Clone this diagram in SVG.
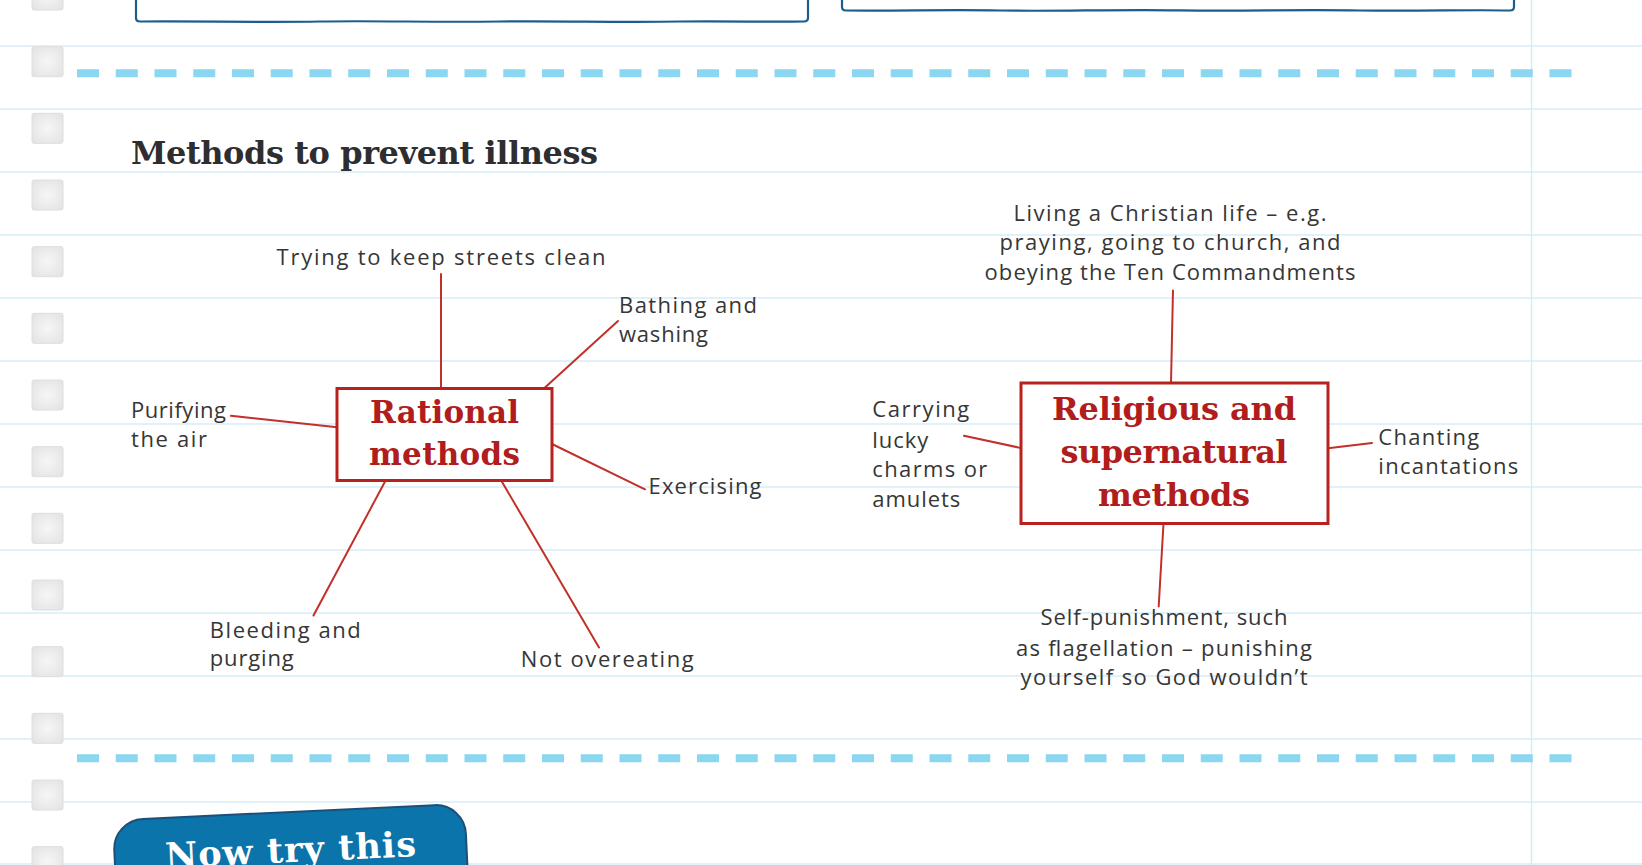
<svg xmlns="http://www.w3.org/2000/svg" width="1642" height="865" viewBox="0 0 1642 865">
<defs>
<style>
.rule{stroke:#e0f1f9;stroke-width:2;fill:none}
.margin{stroke:#d6eaf4;stroke-width:1.5;fill:none}
.dash{stroke:#8bd6f0;stroke-width:8;stroke-dasharray:22 16.75;fill:none}
.cb{fill:url(#cbg);stroke:#dedede;stroke-width:1}
.topbox{fill:#fff;stroke:#1b5e8c;stroke-width:2.2;stroke-linejoin:round}
.box{fill:#fff;stroke:#b7221f;stroke-width:3}
.conn{stroke:#c2302a;stroke-width:2;fill:none;stroke-linecap:round}
.head{font-family:"DejaVu Serif","Liberation Serif",serif;font-weight:bold;fill:#b11c1c;text-anchor:middle}
.lbl{font-family:"Open Sans","Liberation Sans",sans-serif;font-size:22px;fill:#363636}
.mid{text-anchor:middle}
.title{font-family:"DejaVu Serif","Liberation Serif",serif;font-weight:bold;font-size:32px;fill:#2e2e30}
</style>
<radialGradient id="cbg" cx="0.5" cy="0.5" r="0.7">
<stop offset="0" stop-color="#f6f6f6"/>
<stop offset="1" stop-color="#e2e2e2"/>
</radialGradient>
</defs>
<rect width="1642" height="865" fill="#ffffff"/>
<g id="paper">
<g id="rules">
<path class="rule" d="M0,46H1642M0,109H1642M0,172H1642M0,235H1642M0,298H1642M0,361H1642M0,424H1642M0,487H1642M0,550H1642M0,613H1642M0,676H1642M0,739H1642M0,802H1642M0,864H1642"/>
<path class="margin" d="M1531.5,0V865"/>
</g>
<g id="checkboxes">
<rect class="cb" x="32" y="-20" width="31" height="30" rx="2"/>
<rect class="cb" x="32" y="46.7" width="31" height="30" rx="2"/>
<rect class="cb" x="32" y="113.3" width="31" height="30" rx="2"/>
<rect class="cb" x="32" y="180" width="31" height="30" rx="2"/>
<rect class="cb" x="32" y="246.7" width="31" height="30" rx="2"/>
<rect class="cb" x="32" y="313.3" width="31" height="30" rx="2"/>
<rect class="cb" x="32" y="380" width="31" height="30" rx="2"/>
<rect class="cb" x="32" y="446.7" width="31" height="30" rx="2"/>
<rect class="cb" x="32" y="513.3" width="31" height="30" rx="2"/>
<rect class="cb" x="32" y="580" width="31" height="30" rx="2"/>
<rect class="cb" x="32" y="646.7" width="31" height="30" rx="2"/>
<rect class="cb" x="32" y="713.3" width="31" height="30" rx="2"/>
<rect class="cb" x="32" y="780" width="31" height="30" rx="2"/>
<rect class="cb" x="32" y="846.7" width="31" height="30" rx="2"/>
</g>
<path class="dash" d="M77,73.3H1573"/>
<path class="dash" d="M77,758.3H1573"/>
<path class="topbox" d="M136,-4V18Q136,21.5 140,21.5C200,21 260,22.5 320,21.5C380,20.5 430,22.5 500,21.5C560,20.8 620,22.5 680,21.5C730,20.8 770,22.3 804,21.5Q808,21.3 808,18V-4"/>
<path class="topbox" d="M842,-4V7Q842,10.5 846,10.5C900,11 950,9.5 1000,10.5C1060,11.5 1110,9.3 1180,10.3C1240,11.2 1300,9.5 1360,10.5C1420,11.3 1470,9.6 1510,10.5Q1514,10.5 1514,7V-4"/>
</g>
<text id="title" class="title" x="131" y="163.5" textLength="467">Methods to prevent illness</text>
<g id="connectors">
<line class="conn" x1="441" y1="274" x2="441" y2="388"/>
<line class="conn" x1="545" y1="387.5" x2="618" y2="321"/>
<line class="conn" x1="231" y1="415.8" x2="337" y2="427.3"/>
<line class="conn" x1="552" y1="444" x2="645" y2="489.3"/>
<line class="conn" x1="385.6" y1="480.5" x2="313.5" y2="615.5"/>
<line class="conn" x1="501.2" y1="480.5" x2="599" y2="647.5"/>
<line class="conn" x1="1173" y1="290.5" x2="1171" y2="383"/>
<line class="conn" x1="964" y1="435.8" x2="1021" y2="448"/>
<line class="conn" x1="1328" y1="448.3" x2="1372" y2="443"/>
<line class="conn" x1="1163.5" y1="523.5" x2="1158.7" y2="606.5"/>
</g>
<g id="node-rational">
<rect class="box" x="337" y="388.5" width="215" height="92"/>
<text class="head" font-size="31" x="444.5" y="422.7" textLength="149">Rational</text>
<text class="head" font-size="31" x="444.5" y="465" textLength="151">methods</text>
</g>
<g id="node-religious">
<rect class="box" x="1021" y="383" width="307" height="140.5"/>
<text class="head" font-size="32" x="1174" y="420" textLength="244">Religious and</text>
<text class="head" font-size="32" x="1174" y="463.3" textLength="227">supernatural</text>
<text class="head" font-size="32" x="1174" y="506" textLength="152">methods</text>
</g>
<g id="label-streets"><text class="lbl" x="276.5" y="265" textLength="329">Trying to keep streets clean</text></g>
<g id="label-bathing"><text class="lbl" x="619" y="313" textLength="138">Bathing and</text><text class="lbl" x="619" y="342" textLength="89">washing</text></g>
<g id="label-purifying"><text class="lbl" x="131" y="417.5" textLength="95">Purifying</text><text class="lbl" x="131" y="446.5" textLength="76">the air</text></g>
<g id="label-exercising"><text class="lbl" x="648.5" y="494" textLength="113">Exercising</text></g>
<g id="label-bleeding"><text class="lbl" x="209.8" y="637.5" textLength="151">Bleeding and</text><text class="lbl" x="209.8" y="666" textLength="84">purging</text></g>
<g id="label-overeating"><text class="lbl" x="520.8" y="667" textLength="173">Not overeating</text></g>
<g id="label-christian">
<text class="lbl mid" x="1170" y="220.5" textLength="313">Living a Christian life – e.g.</text>
<text class="lbl mid" x="1170" y="250.3" textLength="341">praying, going to church, and</text>
<text class="lbl mid" x="1170" y="280.2" textLength="371">obeying the Ten Commandments</text>
</g>
<g id="label-charms">
<text class="lbl" x="872.3" y="417" textLength="97">Carrying</text>
<text class="lbl" x="872.3" y="447.5" textLength="56">lucky</text>
<text class="lbl" x="872.3" y="477" textLength="115">charms or</text>
<text class="lbl" x="872.3" y="507" textLength="88">amulets</text>
</g>
<g id="label-chanting"><text class="lbl" x="1378.3" y="445" textLength="101">Chanting</text><text class="lbl" x="1378.3" y="473.8" textLength="140">incantations</text></g>
<g id="label-selfpunishment">
<text class="lbl mid" x="1164" y="625" textLength="247">Self-punishment, such</text>
<text class="lbl mid" x="1164" y="655.5" textLength="296">as flagellation – punishing</text>
<text class="lbl mid" x="1164" y="685" textLength="287">yourself so God wouldn’t</text>
</g>
<g id="now-try-this" transform="rotate(-2.7 290 840)">
<rect x="114" y="812" width="352" height="90" rx="30" fill="#0b74aa" stroke="#1e4f78" stroke-width="2"/>
<text x="290" y="862" font-family="DejaVu Serif, Liberation Serif, serif" font-weight="bold" font-size="35" fill="#ffffff" text-anchor="middle" textLength="251">Now try this</text>
</g>
</svg>
